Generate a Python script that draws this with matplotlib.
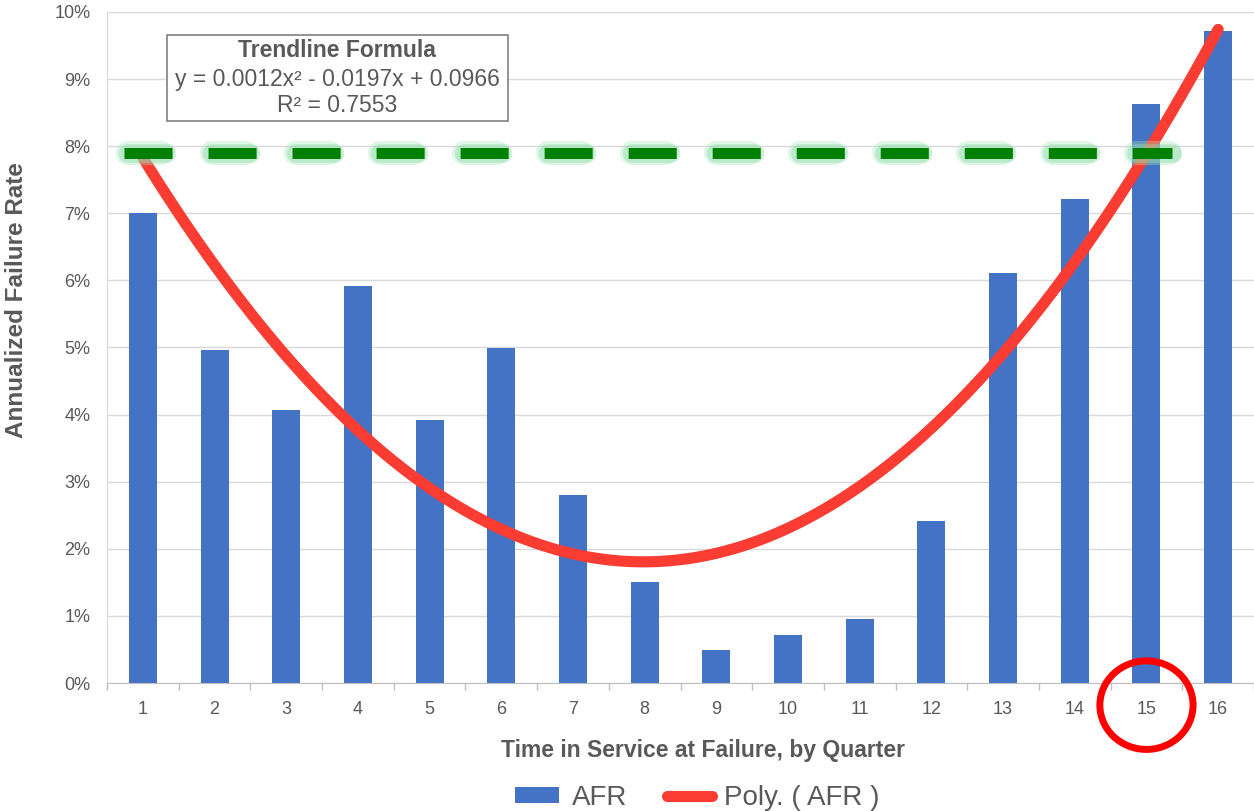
import numpy as np
import matplotlib
matplotlib.use("Agg")
import matplotlib.pyplot as plt
from matplotlib.patches import Rectangle, Ellipse
from matplotlib.ticker import FixedLocator, PercentFormatter

plt.rcParams["font.family"] = ["Liberation Sans", "DejaVu Sans"]
plt.rcParams["lines.scale_dashes"] = False

quarters = np.arange(1, 17)
afr = [7.0, 4.96, 4.07, 5.92, 3.92, 4.99, 2.8, 1.5,
       0.49, 0.72, 0.95, 2.41, 6.11, 7.21, 8.63, 9.72]
target_afr = 7.9
formula_lines = ["y = 0.0012x² - 0.0197x + 0.0966", "R² = 0.7553"]

GREY = "#595959"
BLUE = "#4472c4"
RED = "#fa3c32"

fig = plt.figure(figsize=(12.54, 8.11), dpi=100)
ax = fig.add_axes([107 / 1254, 128 / 811, 1147 / 1254, 671 / 811])

bars = ax.bar(quarters, afr, width=0.39, color=BLUE, zorder=2, label="AFR")

# second order trendline fitted to the quarterly AFR
coef = np.polyfit(quarters, afr, 2)
xs = np.linspace(quarters[0], quarters[-1], 300)
trend, = ax.plot(xs, np.polyval(coef, xs), color=RED, lw=8,
                 solid_capstyle="round", zorder=3, label="Poly. ( AFR )")

# dashed target line with a soft green halo
gx = [0.735, 15.35]
ax.plot(gx, [target_afr] * 2, color="#a6e6bd", alpha=0.35, lw=17.5,
        dash_capstyle="round", linestyle=(57.7, (24.2, 36.3)), zorder=4)
ax.plot(gx, [target_afr] * 2, color="#8fdcaa", alpha=0.45, lw=13.5,
        dash_capstyle="round", linestyle=(58.0, (28.0, 32.5)), zorder=4)
ax.plot(gx, [target_afr] * 2, color="#008000", lw=7.9,
        dash_capstyle="butt", linestyle=(0, (34.6, 25.9)), zorder=5)

ax.set_xlim(0.5, 16.5)
ax.set_ylim(0, 10)
ax.set_xticks(quarters)
ax.xaxis.set_minor_locator(FixedLocator(np.arange(0.5, 17, 1)))
ax.yaxis.set_major_formatter(PercentFormatter(decimals=0))
ax.set_yticks(np.arange(0, 11, 1))
ax.tick_params(axis="x", which="major", length=0, pad=13, labelsize=13, labelcolor=GREY)
ax.tick_params(axis="x", which="minor", length=5, color="#bfbfbf", width=1)
ax.tick_params(axis="y", length=0, pad=12, labelsize=13, labelcolor=GREY)
ax.grid(axis="y", color="#d9d9d9", lw=1, zorder=0)
ax.set_axisbelow(True)
for side in ("top", "right"):
    ax.spines[side].set_visible(False)
ax.spines["left"].set_color("#d9d9d9")
ax.spines["bottom"].set_color("#bfbfbf")

ax.set_xlabel("Time in Service at Failure, by Quarter", fontsize=16.5,
              fontweight="bold", color=GREY, labelpad=15)
ax.set_ylabel("Annualized Failure Rate", fontsize=17.5, fontweight="bold",
              color=GREY, labelpad=19)
ax.xaxis.label.set_x(0.52)
ax.yaxis.label.set_y(0.571)

# formula box
ax.add_patch(Rectangle((0.0523, 0.8376), 0.2973, 0.1282, transform=ax.transAxes,
                       facecolor="white", edgecolor="#808080", lw=1.2, zorder=6))
ax.text(0.2005, 0.943, "Trendline Formula", transform=ax.transAxes, ha="center",
        va="center", fontsize=16.5, fontweight="bold", color=GREY, zorder=7)
ax.text(0.2005, 0.8987, formula_lines[0], transform=ax.transAxes, ha="center",
        va="center", fontsize=16.5, color=GREY, zorder=7)
ax.text(0.2005, 0.860, formula_lines[1], transform=ax.transAxes, ha="center",
        va="center", fontsize=16.5, color=GREY, zorder=7)

# highlight quarter 15
ax.add_patch(Ellipse((15, -0.033), 1.3, 0.132, transform=ax.get_xaxis_transform(),
                     fill=False, edgecolor="red", lw=5, clip_on=False, zorder=8))

fig.legend(handles=[bars, trend], loc="center", bbox_to_anchor=(0.556, 0.016),
           ncol=2, frameon=False, fontsize=20, labelcolor=GREY,
           handlelength=1.6, handleheight=0.5, handletextpad=0.45,
           columnspacing=1.45)

fig.savefig("out.png", dpi=100)
